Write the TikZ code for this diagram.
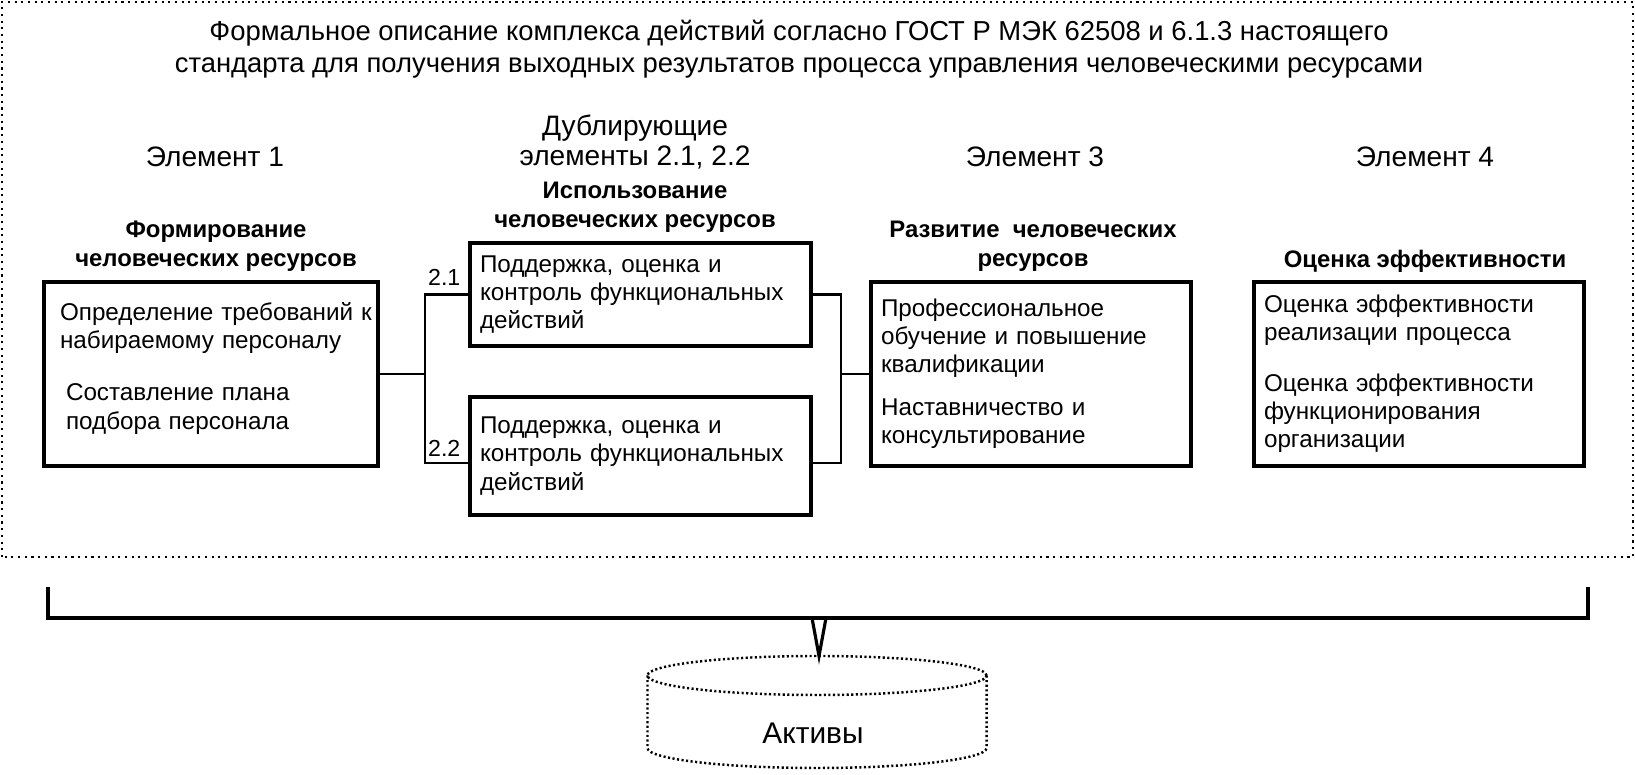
\documentclass[tikz,border=0pt]{standalone}
\usepackage{fontspec}
\setmainfont{Liberation Sans}
\usepackage{tikz}
\tikzset{
  box/.style={draw, line width=1.1pt, align=left, inner xsep=0.1cm, inner ysep=0pt, font={\fontsize{6.9}{8}\selectfont}},
  head/.style={align=center, inner sep=0pt, font={\bfseries\fontsize{6.8}{8.2}\selectfont}},
  elem/.style={align=center, inner sep=0pt, font={\fontsize{8}{8.8}\selectfont}},
  num/.style={inner sep=0pt, font={\fontsize{6.6}{7}\selectfont}},
  link/.style={line width=0.6pt},
  frame/.style={line width=0.6pt, dash pattern=on 0.6pt off 1.3pt},
  bracket/.style={line width=1.2pt},
  cyl/.style={line width=0.7pt, dash pattern=on 0.6pt off 0.7pt}
}
\begin{document}
\begin{tikzpicture}
\useasboundingbox (0,0) rectangle (16.35,7.75);
\draw[frame] (0.02,2.18) rectangle (16.33,7.73);
\node[elem, font={\fontsize{7.8}{9}\selectfont}] (ttl) at (7.99,7.26) {Формальное описание комплекса действий согласно ГОСТ Р МЭК 62508 и 6.1.3 настоящего\\стандарта для получения выходных результатов процесса управления человеческими ресурсами};
\node[elem] (e1) at (2.15,6.18) {Элемент 1};
\node[elem] (e2) at (6.35,6.33) {Дублирующие\\элементы 2.1, 2.2};
\node[elem] (e3) at (10.35,6.18) {Элемент 3};
\node[elem] (e4) at (14.25,6.18) {Элемент 4};
\node[head] (h1) at (2.16,5.29) {Формирование\\человеческих ресурсов};
\node[head] (h2) at (6.35,5.68) {Использование\\человеческих ресурсов};
\node[head] (h3) at (10.33,5.29) {Развитие\ \ человеческих\\ресурсов};
\node[head] (h4) at (14.25,5.14) {Оценка эффективности};
\node[box, inner xsep=0.03cm, text width=3.28cm, minimum height=1.84cm] (b1) at (2.11,4.01) {\hspace*{0.13cm}Определение требований к\\\hspace*{0.13cm}набираемому персоналу\\[0.24cm]\hspace*{0.19cm}Составление плана\\\hspace*{0.19cm}подбора персонала\\[-0.12cm]\mbox{}};
\node[box, text width=3.21cm, minimum height=1.03cm] (b21) at (6.405,4.805) {Поддержка, оценка и\\контроль функциональных\\действий};
\node[box, text width=3.21cm, minimum height=1.18cm] (b22) at (6.405,3.19) {Поддержка, оценка и\\контроль функциональных\\действий};
\node[box, text width=3.00cm, minimum height=1.84cm] (b3) at (10.31,4.01) {Профессиональное\\обучение и повышение\\квалификации\\[0.15cm]Наставничество и\\консультирование};
\node[box, text width=3.10cm, minimum height=1.84cm] (b4) at (14.19,4.01) {Оценка эффективности\\реализации процесса\\[0.23cm]Оценка эффективности\\функционирования\\организации};
\coordinate (lsplit) at (4.25,4.01);
\coordinate (rsplit) at (8.41,4.01);
\coordinate (l22) at ([yshift=-0.07cm]b22.west);
\coordinate (r22) at ([yshift=-0.07cm]b22.east);
\draw[link] (b1.east) -- (lsplit);
\draw[link] (b21.west) -| (lsplit) |- (l22);
\draw[link] (b21.east) -| (rsplit) |- (r22);
\draw[link] (rsplit) -- (b3.west);
\node[num, anchor=south east] (n21) at ([xshift=-0.07cm,yshift=0.08cm]b21.west) {2.1};
\node[num, anchor=south east] (n22) at ([xshift=-0.07cm,yshift=0.06cm]l22) {2.2};
\coordinate (brk) at (8.19,1.57);
\coordinate (cyltop) at (8.19,1.19);
\draw[bracket] (0.48,1.88) -- (0.48,1.57) -- (15.88,1.57) -- (15.88,1.88);
\draw[line width=0.9pt] ([xshift=-0.07cm]brk) -- (cyltop) -- ([xshift=0.07cm]brk);
\draw[cyl] (8.17,0.995) ellipse (1.695 and 0.195);
\draw[cyl] (6.475,0.995) -- (6.475,0.27) arc (180:360:1.695 and 0.20) -- (9.865,0.995);
\node[inner sep=0pt, font={\fontsize{8.5}{9}\selectfont}] (assets) at (8.13,0.42) {Активы};
\end{tikzpicture}
\end{document}
